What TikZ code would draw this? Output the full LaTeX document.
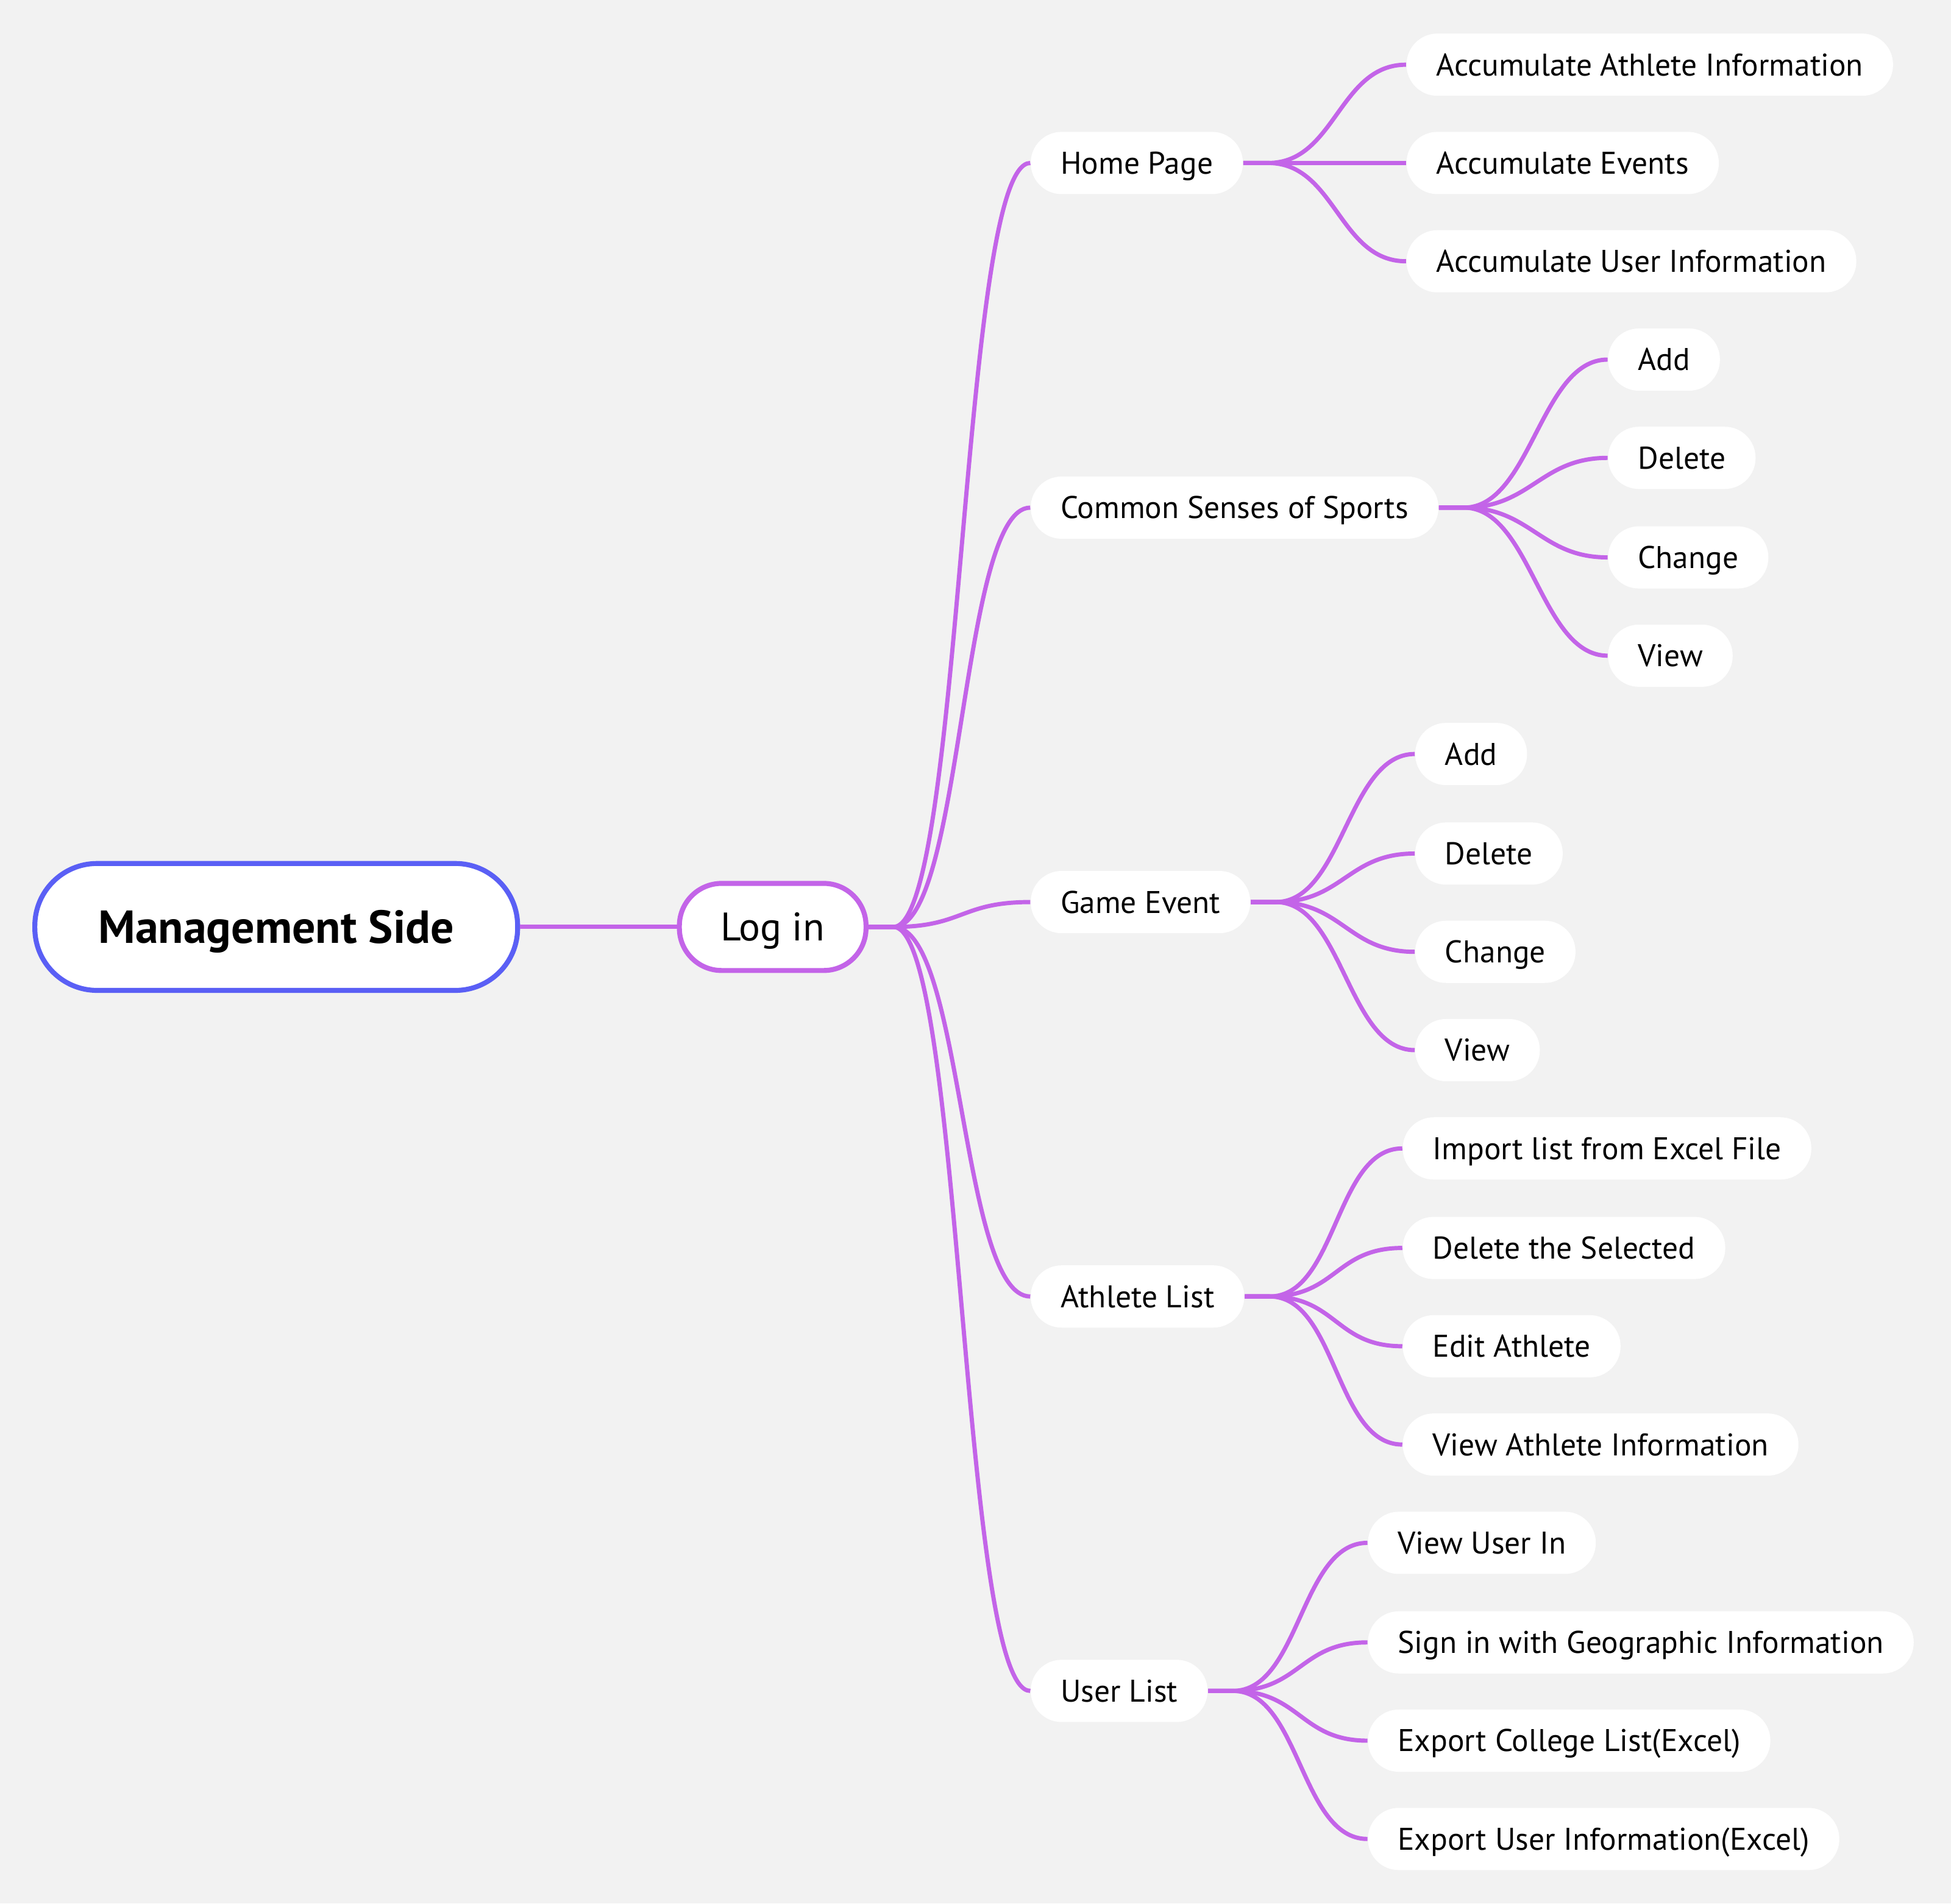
\documentclass[tikz,border=0pt]{standalone}
\usepackage{fontspec}
\setmainfont{PT Sans}
\usetikzlibrary{positioning}
\definecolor{branchpurple}{RGB}{195,100,232}
\definecolor{rootblue}{RGB}{90,95,245}
\definecolor{canvas}{RGB}{242,242,242}
\tikzset{
  topic/.style={fill=white, rounded corners=12.4pt, minimum height=25pt, inner xsep=12pt, inner ysep=0pt, text height=8.8pt, text depth=0pt, anchor=west, font=\fontsize{12.6}{15}\selectfont},
  branch/.style={draw=branchpurple, line width=1.7pt},
}

\begin{document}
\begin{tikzpicture}[x=0.5pt, y=-0.5pt]
    % Canvas
    \fill[canvas] (0,0) rectangle (1568,1530);
    \useasboundingbox (0,0) rectangle (1568,1530);

    % Root and Log in
    \node[draw=rootblue, line width=2pt, fill=white, rounded corners=25pt, minimum width=194pt, minimum height=51pt, text height=13.2pt, text depth=0pt, font=\fontsize{18.6}{22}\selectfont\bfseries] (root) at (222,745) {Management Side};
    \node[draw=branchpurple, line width=2pt, fill=white, rounded corners=17pt, minimum width=75pt, minimum height=35pt, text height=11.2pt, text depth=0pt, font=\fontsize{16}{19}\selectfont] (login) at (621,745) {Log in};

    % Main topics
    \node[topic] (home) at (828,131) {Home Page};
    \node[topic] (sense) at (828,408) {Common Senses of Sports};
    \node[topic] (game) at (828,725) {Game Event};
    \node[topic] (athlete) at (828,1042) {Athlete List};
    \node[topic] (user) at (828,1359) {User List};

    % Home Page
    \node[topic] (homeA) at (1130,52) {Accumulate Athlete Information};
    \node[topic] (homeB) at (1130,131) {Accumulate Events};
    \node[topic] (homeC) at (1130,210) {Accumulate User Information};

    % Common Senses of Sports
    \node[topic] (senseA) at (1292,289) {Add};
    \node[topic] (senseB) at (1292,368) {Delete};
    \node[topic] (senseC) at (1292,448) {Change};
    \node[topic] (senseD) at (1292,527) {View};

    % Game Event
    \node[topic] (gameA) at (1137,606) {Add};
    \node[topic] (gameB) at (1137,686) {Delete};
    \node[topic] (gameC) at (1137,765) {Change};
    \node[topic] (gameD) at (1137,844) {View};

    % Athlete List
    \node[topic] (athleteA) at (1127,923) {Import list from Excel File};
    \node[topic] (athleteB) at (1127,1003) {Delete the Selected};
    \node[topic] (athleteC) at (1127,1082) {Edit Athlete};
    \node[topic] (athleteD) at (1127,1161) {View Athlete Information};

    % User List
    \node[topic] (userA) at (1099,1240) {View User In};
    \node[topic] (userB) at (1099,1320) {Sign in with Geographic Information};
    \node[topic] (userC) at (1099,1399) {Export College List(Excel)};
    \node[topic] (userD) at (1099,1478) {Export User Information(Excel)};

    % Connectors
    \draw[branch] (root.east) -- (login.west);
    \draw[branch] (login.east) -- ++(10pt,0) .. controls +(28pt,0) and +(-28pt,0) .. (home.west);
    \draw[branch] (login.east) -- ++(10pt,0) .. controls +(28pt,0) and +(-28pt,0) .. (sense.west);
    \draw[branch] (login.east) -- ++(10pt,0) .. controls +(28pt,0) and +(-28pt,0) .. (game.west);
    \draw[branch] (login.east) -- ++(10pt,0) .. controls +(28pt,0) and +(-28pt,0) .. (athlete.west);
    \draw[branch] (login.east) -- ++(10pt,0) .. controls +(28pt,0) and +(-28pt,0) .. (user.west);

    \draw[branch] (home.east) -- ++(10pt,0) .. controls +(27pt,0) and +(-27pt,0) .. (homeA.west);
    \draw[branch] (home.east) -- ++(10pt,0) .. controls +(27pt,0) and +(-27pt,0) .. (homeB.west);
    \draw[branch] (home.east) -- ++(10pt,0) .. controls +(27pt,0) and +(-27pt,0) .. (homeC.west);

    \draw[branch] (sense.east) -- ++(10pt,0) .. controls +(27pt,0) and +(-27pt,0) .. (senseA.west);
    \draw[branch] (sense.east) -- ++(10pt,0) .. controls +(27pt,0) and +(-27pt,0) .. (senseB.west);
    \draw[branch] (sense.east) -- ++(10pt,0) .. controls +(27pt,0) and +(-27pt,0) .. (senseC.west);
    \draw[branch] (sense.east) -- ++(10pt,0) .. controls +(27pt,0) and +(-27pt,0) .. (senseD.west);

    \draw[branch] (game.east) -- ++(10pt,0) .. controls +(27pt,0) and +(-27pt,0) .. (gameA.west);
    \draw[branch] (game.east) -- ++(10pt,0) .. controls +(27pt,0) and +(-27pt,0) .. (gameB.west);
    \draw[branch] (game.east) -- ++(10pt,0) .. controls +(27pt,0) and +(-27pt,0) .. (gameC.west);
    \draw[branch] (game.east) -- ++(10pt,0) .. controls +(27pt,0) and +(-27pt,0) .. (gameD.west);

    \draw[branch] (athlete.east) -- ++(10pt,0) .. controls +(27pt,0) and +(-27pt,0) .. (athleteA.west);
    \draw[branch] (athlete.east) -- ++(10pt,0) .. controls +(27pt,0) and +(-27pt,0) .. (athleteB.west);
    \draw[branch] (athlete.east) -- ++(10pt,0) .. controls +(27pt,0) and +(-27pt,0) .. (athleteC.west);
    \draw[branch] (athlete.east) -- ++(10pt,0) .. controls +(27pt,0) and +(-27pt,0) .. (athleteD.west);

    \draw[branch] (user.east) -- ++(10pt,0) .. controls +(27pt,0) and +(-27pt,0) .. (userA.west);
    \draw[branch] (user.east) -- ++(10pt,0) .. controls +(27pt,0) and +(-27pt,0) .. (userB.west);
    \draw[branch] (user.east) -- ++(10pt,0) .. controls +(27pt,0) and +(-27pt,0) .. (userC.west);
    \draw[branch] (user.east) -- ++(10pt,0) .. controls +(27pt,0) and +(-27pt,0) .. (userD.west);

\end{tikzpicture}
\end{document}
